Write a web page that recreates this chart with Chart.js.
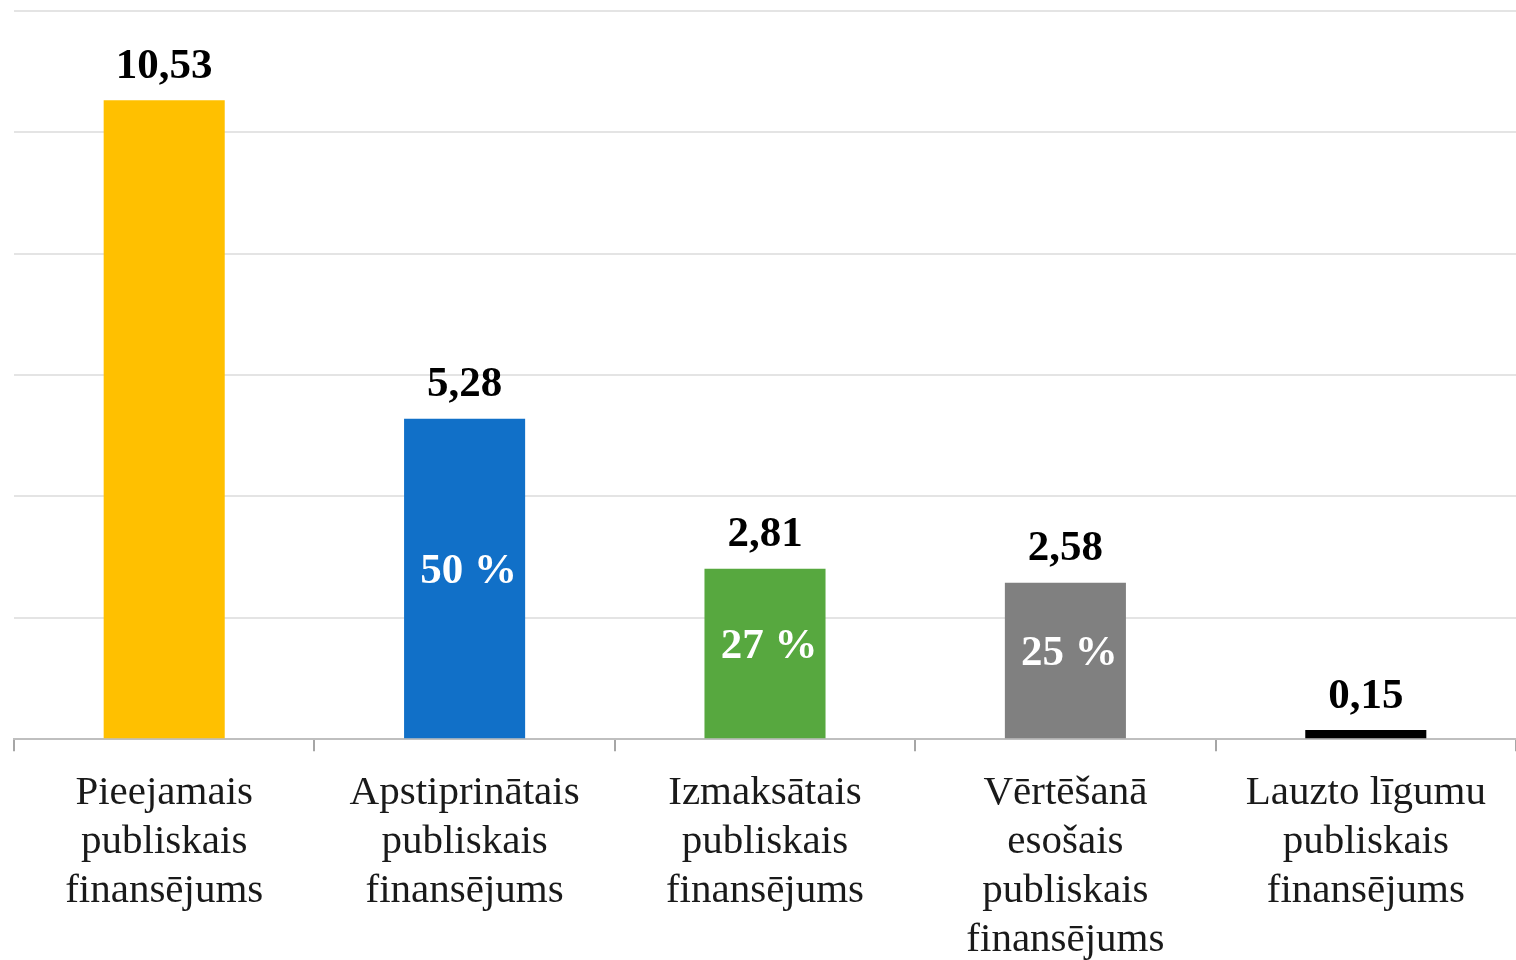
<!DOCTYPE html>
<html>
<head>
<meta charset="utf-8">
<script src="https://cdn.jsdelivr.net/npm/chart.js@4"></script>
<style>
  html, body { margin: 0; padding: 0; background: #fff; }
  #wrap { width: 1516px; height: 960px; }
</style>
</head>
<body>
<div id="wrap"><canvas id="myChart" width="1516" height="960"></canvas></div>
<script>
'use strict'
// categories (multi-line labels)
let categories = [
    ['Pieejamais', 'publiskais', 'finansējums'],
    ['Apstiprinātais', 'publiskais', 'finansējums'],
    ['Izmaksātais', 'publiskais', 'finansējums'],
    ['Vērtēšanā', 'esošais', 'publiskais', 'finansējums'],
    ['Lauzto līgumu', 'publiskais', 'finansējums']
];
let values = [10.53, 5.28, 2.81, 2.58, 0.15];
let percents = ['', '50 %', '27 %', '25 %', ''];
let barColors = ['#FFC000', '#1170C8', '#57A83F', '#808080', '#000000'];
let yTicks = [0, 2, 4, 6, 8, 10, 12];

function fmt(v){
    return v.toFixed(2).replace('.', ',');
}

// draws the value above each bar and the share inside it
let labelPlugin = {
    id: 'barLabels',
    afterDatasetsDraw(chart){
        let ctx = chart.ctx;
        let meta = chart.getDatasetMeta(0);
        ctx.save();
        ctx.textAlign = 'center';
        meta.data.forEach(function(bar, i){
            ctx.fillStyle = '#000';
            ctx.font = 'bold 43px "Liberation Serif", serif';
            ctx.textBaseline = 'bottom';
            ctx.fillText(fmt(values[i]), bar.x, bar.y - 12);
            if (percents[i]) {
                ctx.fillStyle = '#fff';
                ctx.font = 'bold 43px "Liberation Serif", serif';
                ctx.textBaseline = 'middle';
                let mid = (bar.y + bar.base) / 2;
                ctx.fillText(percents[i], bar.x + 4, mid - 7);
            }
        });
        ctx.restore();
    }
};

var ctx = document.getElementById('myChart').getContext('2d');
var myChart = new Chart(ctx, {
    type: 'bar',
    data: {
        labels: categories,
        datasets: [{
            data: values,
            backgroundColor: barColors,
            borderWidth: 0,
            barPercentage: 0.403,
            categoryPercentage: 1
        }]
    },
    options: {
        responsive: false,
        animation: false,
        layout: { padding: { left: 14, right: 0, top: 11, bottom: -22 } },
        plugins: {
            legend: { display: false },
            tooltip: { enabled: false }
        },
        scales: {
            x: {
                grid: {
                    drawOnChartArea: false,
                    drawTicks: true,
                    tickLength: 12,
                    color: '#A6A6A6',
                    lineWidth: 2
                },
                border: { color: '#BFBFBF', width: 2 },
                ticks: {
                    color: '#1a1a1a',
                    maxRotation: 0,
                    autoSkip: false,
                    padding: 17,
                    font: { family: '"Liberation Serif", serif', size: 41, lineHeight: 1.2 }
                }
            },
            y: {
                min: 0,
                max: 12,
                afterBuildTicks: function(axis){
                    axis.ticks = yTicks.map(function(v){ return { value: v }; });
                },
                ticks: { display: false },
                grid: { color: '#E4E4E4', lineWidth: 2, drawTicks: false },
                border: { display: false }
            }
        }
    },
    plugins: [labelPlugin]
});
</script>
</body>
</html>
